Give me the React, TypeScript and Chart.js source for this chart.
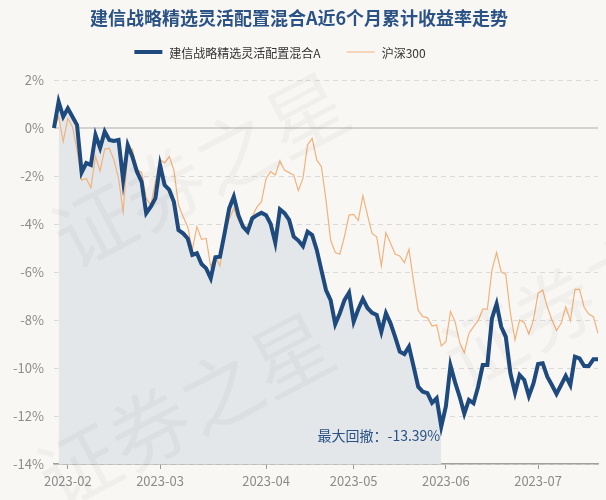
import React, { useEffect, useRef } from "react";
import { Chart, registerables } from "chart.js";
Chart.register(...registerables);

// trading days per month
const janDays = [20, 30, 31];
const febDays = [1, 2, 3, 6, 7, 8, 9, 10, 13, 14, 15, 16, 17, 20, 21, 22, 23, 24, 27, 28];
const marDays = [1, 2, 3, 6, 7, 8, 9, 10, 13, 14, 15, 16, 17, 20, 21, 22, 23, 24, 27, 28, 29, 30, 31];
const aprDays = [3, 4, 6, 7, 10, 11, 12, 13, 14, 17, 18, 19, 20, 21, 24, 25, 26, 27, 28];
const mayDays = [4, 5, 8, 9, 10, 11, 12, 15, 16, 17, 18, 19, 22, 23, 24, 25, 26, 29, 30, 31];
const junDays = [1, 2, 5, 6, 7, 8, 9, 12, 13, 14, 15, 16, 19, 20, 21, 26, 27, 28, 29, 30];
const julDays = [3, 4, 5, 6, 7, 10, 11, 12, 13, 14, 17, 18, 19, 20];
const monthNames = ["2023-01", "2023-02", "2023-03", "2023-04", "2023-05", "2023-06", "2023-07"];
const monthDays = [janDays, febDays, marDays, aprDays, mayDays, junDays, julDays];
const dates: string[] = monthNames.flatMap((m, k) =>
  monthDays[k].map((d) => `${m}-${String(d).padStart(2, "0")}`)
);

const fundName = "建信战略精选灵活配置混合A";
const indexName = "沪深300";
const titleText = "建信战略精选灵活配置混合A近6个月累计收益率走势";

const fundValues = [
  0, 1.1, 0.47, 0.82, 0.47, 0.12, -1.85, -1.46, -1.54, -0.29,
  -0.83, -0.15, -0.5, -0.54, -0.5, -2.17, -0.71, -1.19, -1.82, -2.24,
  -3.55, -3.28, -2.92, -1.54, -2.38, -2.58, -3.07, -4.25, -4.39, -4.6,
  -5.29, -5.22, -5.67, -5.85, -6.26, -5.39, -5.36, -4.39, -3.35, -2.86,
  -3.63, -4.11, -4.32, -3.76, -3.63, -3.53, -3.63, -4.0, -4.78, -3.39,
  -3.55, -3.83, -4.53, -4.69, -4.92, -4.32, -4.46, -5.08, -5.92, -6.75,
  -7.17, -8.17, -7.72, -7.17, -6.86, -8.07, -7.55, -7.12, -7.5, -7.7,
  -7.79, -8.49, -7.72, -8.14, -8.7, -9.32, -9.42, -9.11, -9.94, -10.78,
  -10.99, -11.05, -11.45, -11.26, -12.44, -11.6, -9.9, -10.6, -11.2, -11.9,
  -11.33, -11.47, -10.78, -9.88, -9.88, -7.93, -7.33, -8.28, -8.7, -10.22,
  -11.03, -10.29, -10.5, -11.17, -10.64, -9.83, -9.8, -10.36, -10.71, -11.08,
  -10.71, -10.33, -10.71, -9.53, -9.6, -9.92, -9.92, -9.64, -9.64,
];

const indexValues = [
  0, 0.47, -0.57, 0.4, 0.05, -0.92, -2.17, -2.1, -2.49, -1.19,
  -1.79, -0.88, -0.85, -1.33, -2.1, -3.49, -1.06, -0.88, -1.75, -1.85,
  -2.93, -3.21, -2.24, -1.31, -1.45, -1.19, -1.75, -3.21, -3.69, -4.11,
  -5.08, -4.11, -4.64, -4.6, -5.78, -5.33, -5.75, -4.46, -3.8, -3.35,
  -3.83, -4.18, -4.11, -3.69, -3.3, -3.07, -2.1, -1.82, -1.96, -1.38,
  -1.75, -1.86, -1.96, -2.61, -2.1, -0.71, -0.43, -1.33, -1.61, -3.0,
  -4.67, -5.19, -5.26, -4.53, -3.63, -3.6, -3.86, -2.82, -3.63, -4.39,
  -4.53, -5.75, -4.36, -4.8, -5.25, -5.33, -5.61, -5.05, -6.4, -7.6,
  -7.86, -7.9, -8.25, -8.21, -9.08, -8.9, -7.65, -8.07, -8.95, -9.36,
  -8.56, -8.28, -8.03, -7.55, -7.55, -5.92, -5.19, -5.99, -6.1, -7.72,
  -8.83, -8.0, -8.11, -8.58, -8.0, -6.89, -6.75, -7.45, -8.0, -8.44,
  -8.14, -7.45, -8.03, -6.72, -6.72, -7.47, -7.75, -7.86, -8.56,
];

const yMin = -14;
const yMax = 2;
const yStep = 2;
const drawdownStart = 1;
const drawdownEnd = 84;
const drawdownLabel = "最大回撤：-13.39%";
const watermarkText = "证券之星";

const BLUE = "#1e4a7e";
const ORANGE = "#f2b27c";
const BG = "#f9f7f3";
const FONT = "'Noto Sans CJK SC', 'Noto Sans', sans-serif";

export default function App() {
  const ref = useRef<HTMLCanvasElement | null>(null);

  useEffect(() => {
    document.body.style.margin = "0";
    document.body.style.background = BG;
    const canvas = ref.current;
    if (!canvas) return;

    const bgPlugin = {
      id: "bg",
      beforeDraw(chart: any) {
        const { ctx, width, height } = chart;
        ctx.save();
        ctx.fillStyle = BG;
        ctx.fillRect(0, 0, width, height);
        ctx.restore();
      },
    };

    const watermarkPlugin = {
      id: "watermark",
      afterDraw(chart: any) {
        const { ctx } = chart;
        const spots = [
          [200, 170],
          [185, 410],
          [590, 290],
        ];
        ctx.save();
        ctx.font = `80px ${FONT}`;
        ctx.fillStyle = "rgba(0,0,0,0.03)";
        ctx.textAlign = "center";
        ctx.textBaseline = "middle";
        for (const [x, y] of spots) {
          ctx.save();
          ctx.translate(x, y);
          ctx.rotate(-Math.PI / 6.5);
          ctx.fillText(watermarkText, 0, 0);
          ctx.restore();
        }
        ctx.restore();
      },
    };

    const annotatePlugin = {
      id: "annot",
      afterDatasetsDraw(chart: any) {
        const { ctx, scales } = chart;
        const x = scales.x.getPixelForValue(drawdownEnd);
        const y = scales.y.getPixelForValue(fundValues[drawdownEnd]);
        ctx.save();
        ctx.font = `14px ${FONT}`;
        ctx.fillStyle = "#2a5285";
        ctx.textAlign = "right";
        ctx.textBaseline = "middle";
        ctx.fillText(drawdownLabel, x - 1, y + 9);
        ctx.restore();
      },
    };

    const legendPlugin = {
      id: "customLegend",
      afterDraw(chart: any) {
        const { ctx } = chart;
        const items = [
          { text: fundName, color: BLUE, width: 4 },
          { text: indexName, color: ORANGE, width: 1 },
        ];
        const lineLen = 28;
        const textGap = 7;
        const itemGap = 26;
        ctx.save();
        ctx.font = `12px ${FONT}`;
        const widths = items.map((it) => lineLen + textGap + ctx.measureText(it.text).width);
        const total = widths.reduce((a, b) => a + b, 0) + itemGap * (items.length - 1);
        let x = 280 - total / 2;
        const y = 52;
        items.forEach((it, i) => {
          ctx.beginPath();
          ctx.strokeStyle = it.color;
          ctx.lineWidth = it.width;
          ctx.moveTo(x, y);
          ctx.lineTo(x + lineLen, y);
          ctx.stroke();
          ctx.fillStyle = "#333333";
          ctx.textAlign = "left";
          ctx.textBaseline = "middle";
          ctx.fillText(it.text, x + lineLen + textGap, y + 1);
          x += widths[i] + itemGap;
        });
        ctx.restore();
      },
    };

    const monthStartIdx = dates
      .map((d, i) => i)
      .filter((i) => i > 0 && dates[i].slice(0, 7) !== dates[i - 1].slice(0, 7));

    const chart = new Chart(canvas, {
      type: "line",
      data: {
        labels: dates,
        datasets: [
          {
            label: fundName,
            data: fundValues,
            borderColor: BLUE,
            borderWidth: 4,
            pointRadius: 0,
            fill: false,
            tension: 0,
            order: 0,
          },
          {
            label: indexName,
            data: indexValues,
            borderColor: ORANGE,
            borderWidth: 1.2,
            pointRadius: 0,
            fill: false,
            tension: 0,
            order: 1,
          },
          {
            label: "drawdown",
            data: fundValues.map((v, i) => (i >= drawdownStart && i <= drawdownEnd ? v : null)),
            borderWidth: 0,
            borderColor: "rgba(0,0,0,0)",
            backgroundColor: "#e3e7ea",
            pointRadius: 0,
            fill: "start",
            spanGaps: false,
            order: 2,
          },
        ],
      },
      options: {
        responsive: false,
        animation: false,
        layout: { padding: { left: 0, right: 8, top: 0, bottom: 0 } },
        plugins: {
          legend: { display: false },
          tooltip: { enabled: false },
          title: {
            display: true,
            text: titleText,
            color: "#2a5285",
            font: { family: FONT, size: 18, weight: "bold" },
            padding: { top: 7, bottom: 51.4 },
          },
        },
        scales: {
          x: {
            type: "category",
            offset: false,
            afterBuildTicks: (scale: any) => {
              scale.ticks = monthStartIdx.map((i) => ({ value: i }));
            },
            afterFit: (scale: any) => {
              scale.height = 36;
            },
            ticks: {
              autoSkip: false,
              maxRotation: 0,
              padding: 4,
              color: "#8c8c8c",
              font: { family: FONT, size: 13 },
              callback: (value: any) => dates[Number(value)].slice(0, 7),
            },
            grid: {
              drawOnChartArea: false,
              drawTicks: true,
              tickLength: 5,
              tickColor: "#999999",
              tickWidth: 1,
            },
            border: { display: true, color: "#a0a0a0", width: 1.5 },
          },
          y: {
            min: yMin,
            max: yMax,
            afterFit: (scale: any) => {
              scale.width = 54;
            },
            ticks: {
              stepSize: yStep,
              padding: 10,
              color: "#8c8c8c",
              font: { family: FONT, size: 13 },
              callback: (value: any) => `${value}%`,
            },
            grid: {
              drawTicks: false,
              color: (c: any) => (c.tick && c.tick.value === 0 ? "#d2d2d2" : "#dadada"),
              lineWidth: (c: any) => (c.tick && c.tick.value === 0 ? 2 : 1),
            },
            border: {
              display: false,
              dash: (c: any) => (c.tick && c.tick.value === 0 ? [] : [5, 4]),
            },
          },
        },
      },
      plugins: [bgPlugin, annotatePlugin, legendPlugin, watermarkPlugin],
    } as any);

    return () => chart.destroy();
  }, []);

  return (
    <div style={{ width: 606, height: 500 }}>
      <canvas ref={ref} width={606} height={500} style={{ display: "block" }} />
    </div>
  );
}
